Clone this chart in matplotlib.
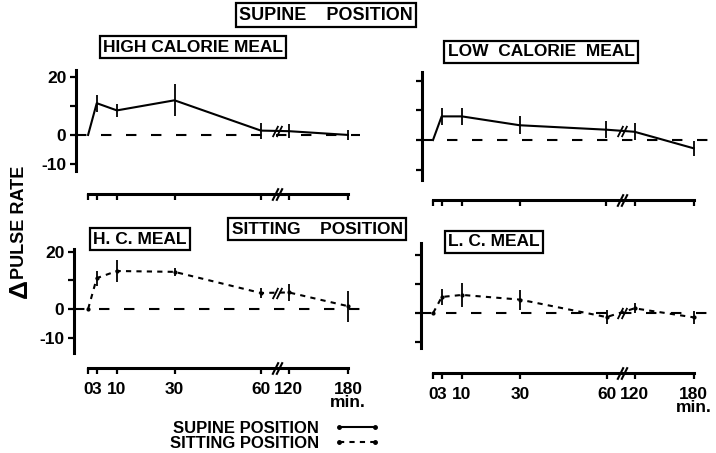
import numpy as np
import matplotlib.pyplot as plt
import matplotlib.transforms as mtransforms
from matplotlib.lines import Line2D

plt.rcParams['font.family'] = ['Liberation Sans', 'DejaVu Sans']
plt.rcParams['font.weight'] = 'bold'

# time points (min)
t = [0, 3, 10, 30, 60, 120, 180]
tick_labels = ['0', '3', '10', '30', '60', '120', '180\nmin.']

# delta pulse rate, mean and error
hc_supine = [0, 11, 8.5, 12, 1.5, 1.3, 0]
hc_supine_err = [0, 3, 2.3, 5.5, 2.8, 2.5, 1.8]
lc_supine = [0, 8, 8, 5, 3.5, 2.8, -2.8]
lc_supine_err = [0, 3, 3, 3, 2.8, 2.8, 2.5]
hc_sitting = [0, 10.8, 13.3, 13, 5.6, 5.8, 1]
hc_sitting_err = [0, 2.6, 3.8, 1.5, 1.8, 3, 5.4]
lc_sitting = [0, 5.5, 6.2, 4.6, -1.4, 1.6, -1.5]
lc_sitting_err = [0, 2.8, 4.2, 3.4, 2.5, 1.7, 2.2]

# broken time axis: 60-120 and 120-180 are compressed
T_KNOTS = [-100, 0, 60, 120, 180, 400]
U_KNOTS = [-100, 0, 60, 69.7, 90.2, 90.2 + 220 * 20.5 / 60]


def fwd(x):
    return np.interp(x, T_KNOTS, U_KNOTS)


def inv(u):
    return np.interp(u, U_KNOTS, T_KNOTS)


W, H = 716, 453
fig = plt.figure(figsize=(W / 100, H / 100), dpi=100)
FS = 12.5


def make_ax(l, r, top, bot, ylim, xu, xoff_px, ylabels, xlabels):
    ax = fig.add_axes([l / W, 1 - bot / H, (r - l) / W, (bot - top) / H])
    ax.set_xscale('function', functions=(fwd, inv))
    ax.set_xlim(inv(xu[0]), inv(xu[1]))
    ax.set_ylim(*ylim)
    for s in ['top', 'right']:
        ax.spines[s].set_visible(False)
    ax.spines['left'].set_linewidth(2.2)
    ax.spines['bottom'].set_linewidth(2.2)
    ax.spines['bottom'].set_position(('outward', xoff_px * 0.72))
    ax.spines['bottom'].set_bounds(0, 180)
    ax.set_yticks([-10, 0, 10, 20])
    if ylabels:
        ax.set_yticklabels(['-10', '0', '', '20'])
    else:
        ax.set_yticklabels([])
    ax.set_xticks(t)
    if xlabels:
        ax.set_xticklabels(tick_labels, linespacing=0.85)
    else:
        ax.set_xticklabels([])
    ax.xaxis.set_minor_locator(plt.NullLocator())
    ax.tick_params(length=4, width=1.6, labelsize=FS, pad=3)
    ax.tick_params(axis='x', pad=6)
    ax.axhline(0, color='black', lw=1.5, ls=(0, (5, 7)), zorder=1)
    # break marks on x axis
    tr = mtransforms.blended_transform_factory(ax.transData, ax.transAxes) + \
        mtransforms.ScaledTranslation(0, -xoff_px / 100, fig.dpi_scale_trans)
    ax.plot([inv(64.8), inv(66.2)], [0, 0], transform=tr, ls='none',
            marker=[(-1, -2), (1, 2)], ms=9, mew=1.5, color='black', clip_on=False)
    return ax


def series(ax, y, err, ls, dots):
    ax.errorbar(t, y, yerr=err, color='black', lw=1.5, ls=ls, elinewidth=1.3,
                capsize=0, marker='.' if dots else None, ms=4, zorder=3)
    yb = (y[4] + y[5]) / 2
    ax.plot([inv(64.8), inv(66.2)], [yb, yb], ls='none',
            marker=[(-1, -2), (1, 2)], ms=8, mew=1.3, color='black', zorder=4)


ax1 = make_ax(76, 360, 70, 171, (-12.5, 22.5), (-4.2, 94.4), 23, True, False)
series(ax1, hc_supine, hc_supine_err, '-', False)
ax2 = make_ax(422, 712, 72, 180, (-13.5, 23), (-3.8, 96.5), 20, False, False)
series(ax2, lc_supine, lc_supine_err, '-', False)
ax3 = make_ax(74, 360, 249, 353, (-15.4, 21), (-4.9, 94.4), 15, True, True)
series(ax3, hc_sitting, hc_sitting_err, (0, (2.5, 2.5)), True)
ax4 = make_ax(421, 712, 243, 348, (-12, 24), (-4.2, 96.5), 25, False, True)
series(ax4, lc_sitting, lc_sitting_err, (0, (2.5, 2.5)), True)

box = dict(boxstyle='square,pad=0.2', fc='white', ec='black', lw=1.6)


def boxed(x, y, s, size=12.5):
    fig.text(x / W, 1 - y / H, s, ha='center', va='center', fontsize=size,
             bbox=box)


boxed(326, 15, 'SUPINE    POSITION', 13)
boxed(193, 47, 'HIGH CALORIE MEAL')
boxed(541, 52, 'LOW  CALORIE  MEAL')
boxed(317, 229, 'SITTING    POSITION')
boxed(140, 239, 'H. C. MEAL')
boxed(494, 242, 'L. C. MEAL')

fig.text(20 / W, 1 - 222 / H, 'PULSE RATE', rotation=90, ha='center',
         va='center', fontsize=13)
fig.text(20 / W, 1 - 289 / H, 'Δ', rotation=90, ha='center', va='center',
         fontsize=19)

handles = [Line2D([], [], color='black', lw=1.5, marker='o', ms=2.5),
           Line2D([], [], color='black', lw=1.5, ls=(0, (2.5, 2.5)), marker='o', ms=2.5)]
fig.legend(handles, ['SUPINE POSITION', 'SITTING POSITION'], markerfirst=False,
           frameon=False, numpoints=2, fontsize=12, handlelength=2.8,
           labelspacing=0.0, borderpad=0, handletextpad=0.9,
           loc='center', bbox_to_anchor=(275 / W, 1 - 436 / H))

fig.savefig('out.png', dpi=100)
